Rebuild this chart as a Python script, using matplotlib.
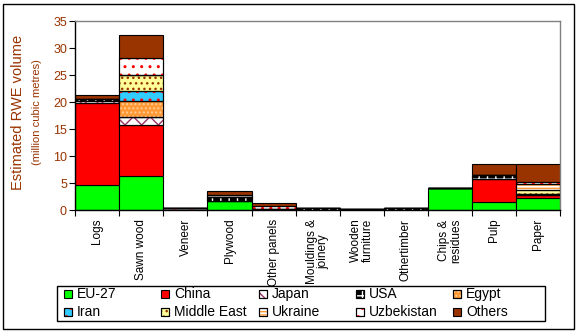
import matplotlib
matplotlib.use('Agg')
import matplotlib.pyplot as plt
from matplotlib.patches import Rectangle
import numpy as np

plt.rcParams['font.family'] = ['Liberation Sans', 'DejaVu Sans']
plt.rcParams['hatch.linewidth'] = 1.0

categories = ['Logs', 'Sawn wood', 'Veneer', 'Plywood', 'Other panels',
              'Mouldings &\njoinery', 'Wooden\nfurniture', 'Othertimber',
              'Chips &\nresidues', 'Pulp', 'Paper']

# million m3 RWE by origin, one list per origin
eu27       = [4.7, 6.3, 0.0, 1.78, 0.0, 0.0, 0.0, 0.0, 4.2, 1.5, 2.33]
china      = [15.1, 9.4, 0.0, 0.0, 0.0, 0.0, 0.0, 0.0, 0.0, 4.35, 0.5]
japan      = [0.5, 1.5, 0.4, 0.0, 0.0, 0.0, 0.0, 0.0, 0.0, 0.0, 0.0]
usa        = [0.25, 0.0, 0.1, 0.72, 0.2, 0.37, 0.25, 0.37, 0.0, 0.65, 0.25]
egypt      = [0.1, 3.1, 0.0, 0.0, 0.0, 0.0, 0.0, 0.0, 0.0, 0.0, 0.0]
iran       = [0.0, 1.7, 0.0, 0.0, 0.0, 0.0, 0.0, 0.0, 0.0, 0.0, 0.0]
middle_east = [0.0, 3.1, 0.0, 0.0, 0.0, 0.0, 0.0, 0.0, 0.0, 0.0, 0.73]
ukraine    = [0.0, 0.0, 0.0, 0.3, 0.0, 0.0, 0.0, 0.0, 0.0, 0.0, 1.1]
uzbekistan = [0.0, 3.0, 0.0, 0.0, 0.6, 0.0, 0.0, 0.0, 0.0, 0.0, 0.38]
others     = [0.6, 4.3, 0.0, 0.77, 0.5, 0.0, 0.0, 0.0, 0.0, 2.1, 3.27]

series = [('EU-27', eu27), ('China', china), ('Japan', japan), ('USA', usa),
          ('Egypt', egypt), ('Iran', iran), ('Middle East', middle_east),
          ('Ukraine', ukraine), ('Uzbekistan', uzbekistan), ('Others', others)]

# face colour, hatch, hatch colour
styles = {
    'EU-27':       ('#00FF00', None, None),
    'China':       ('#FF0000', None, None),
    'Japan':       ('#FFFFFF', 'xx', '#993366'),
    'USA':         ('#000000', '++', '#FFFFFF'),
    'Egypt':       ('#FF9933', '....', '#FFCC99'),
    'Iran':        ('#33CCFF', '..', '#FF0000'),
    'Middle East': ('#FFFF99', '...', '#993300'),
    'Ukraine':     ('#FFFFFF', '-----', '#FF9933'),
    'Uzbekistan':  ('#FFFFFF', '..', '#FF0000'),
    'Others':      ('#993300', None, None),
}

W, H = 577, 332
fig = plt.figure(figsize=(W / 100, H / 100), dpi=100)
ax = fig.add_axes([75.3 / W, 1 - 210.3 / H, (560 - 75.3) / W, (210.3 - 21) / H])

x = np.arange(len(categories))
bottom = np.zeros(len(categories))
for name, vals in series:
    vals = np.array(vals)
    fc, hatch, hc = styles[name]
    ax.bar(x, vals, width=1.0, bottom=bottom, color=fc, edgecolor='black',
           linewidth=0.8, zorder=2)
    if hatch:
        ax.bar(x, vals, width=1.0, bottom=bottom, color='none', edgecolor=hc,
               hatch=hatch, linewidth=0, zorder=3)
        ax.bar(x, vals, width=1.0, bottom=bottom, color='none',
               edgecolor='black', linewidth=0.8, zorder=4)
    bottom += vals

ax.set_xlim(-0.5, len(categories) - 0.5)
ax.set_ylim(0, 35)
ax.set_yticks(np.arange(0, 36, 5))
ax.tick_params(axis='y', direction='out', length=4, width=0.8,
               labelsize=9, labelcolor='#993300', pad=2)

ax.set_xticks(np.arange(-0.5, len(categories)), labels=[])
ax.tick_params(axis='x', which='major', direction='out', length=4, width=0.8)
ax.set_xticks(x, labels=categories, minor=True)
ax.tick_params(axis='x', which='minor', length=0, labelsize=8.5, pad=6,
               labelrotation=90)
for lbl in ax.get_xticklabels(minor=True):
    lbl.set_va('top')
    lbl.set_linespacing(1.0)

for s in ['left', 'bottom']:
    ax.spines[s].set_color('black')
    ax.spines[s].set_linewidth(1.0)
for s in ['top', 'right']:
    ax.spines[s].set_color('#808080')
    ax.spines[s].set_linewidth(1.0)

fig.text(18 / W, 1 - 112.5 / H, 'Estimated RWE volume', rotation=90,
         ha='center', va='center', fontsize=10.5, color='#993300')
fig.text(37 / W, 1 - 112.5 / H, '(million cubic metres)', rotation=90,
         ha='center', va='center', fontsize=8, color='#993300')

# legend box with evenly spaced columns
fig.patches.append(Rectangle((57 / W, 1 - 320.7 / H), (545 - 57) / W,
                             (320.7 - 285.7) / H, transform=fig.transFigure,
                             facecolor='white', edgecolor='black', linewidth=1.0))
for i, (name, _) in enumerate(series):
    col, row = i % 5, i // 5
    mx = 64 + col * 97.3
    my = 294.3 + row * 18
    fc, hatch, hc = styles[name]
    sq = (mx / W, 1 - (my + 4) / H)
    sw, sh = 8 / W, 8 / H
    fig.patches.append(Rectangle(sq, sw, sh, transform=fig.transFigure,
                                 facecolor=fc, edgecolor='black', linewidth=0.8))
    if hatch:
        fig.patches.append(Rectangle(sq, sw, sh, transform=fig.transFigure,
                                     facecolor='none', edgecolor=hc,
                                     hatch=hatch, linewidth=0))
        fig.patches.append(Rectangle(sq, sw, sh, transform=fig.transFigure,
                                     facecolor='none', edgecolor='black',
                                     linewidth=0.8))
    fig.text((mx + 13) / W, 1 - my / H, name, ha='left', va='center',
             fontsize=10)

# outer chart border
fig.patches.append(Rectangle((3 / W, 1 - 328.5 / H), (574 - 3) / W,
                             (328.5 - 3.5) / H, transform=fig.transFigure,
                             facecolor='none', edgecolor='black', linewidth=1.0))

fig.savefig('out.png', dpi=100)
